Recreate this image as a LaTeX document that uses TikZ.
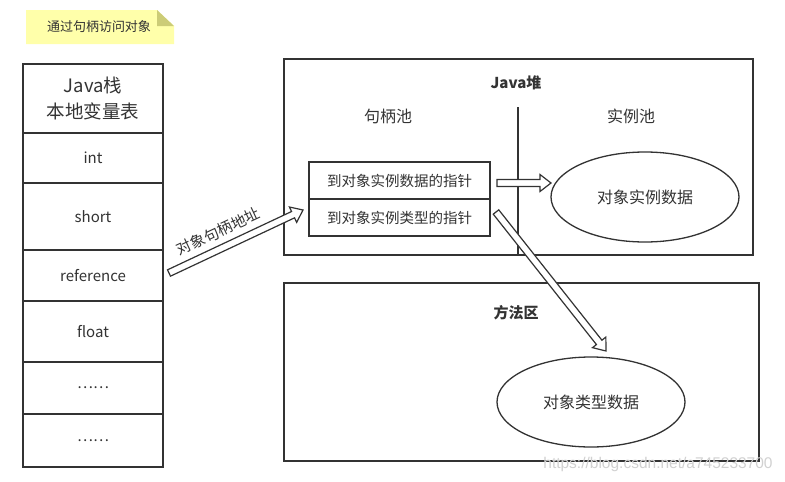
\documentclass[tikz,border=0pt]{standalone}
\usepackage{fontspec}
\setmainfont{Noto Sans CJK SC}
\newfontfamily\wmfont{Liberation Sans}
\usetikzlibrary{calc,shapes.geometric}
\definecolor{ln}{HTML}{333333}
\definecolor{notey}{HTML}{FFFFAA}
\definecolor{notec}{HTML}{CCCC77}
\tikzset{
  box/.style={draw=ln, line width=1.3pt, rectangle, inner sep=0pt},
  cell/.style={box, minimum width=140pt, font=\fontsize{15}{18}\selectfont, text=ln},
  hcell/.style={box, minimum width=181pt, minimum height=37pt, font=\fontsize{14.5}{17}\selectfont, text=ln},
  oval/.style={draw=ln, line width=1.3pt, ellipse, minimum width=188pt, minimum height=90pt, inner sep=0pt, font=\fontsize{16}{19}\selectfont, text=ln},
  lbl/.style={font=\fontsize{16}{19}\selectfont, text=ln},
  blbl/.style={font=\fontsize{15}{18}\selectfont\bfseries, text=ln},
  blockarr/.style={draw=ln, line width=1.2pt, fill=white, line join=miter},
}
% hollow block arrow from #1 to #2; #3 = name of the head-base coordinate
\newcommand{\blockarrow}[3]{%
  \coordinate (#3) at ($(#2)!11pt!(#1)$);
  \draw[blockarr] ($(#1)!3.5pt!90:(#2)$) -- ($(#3)!3.5pt!90:(#2)$) -- ($(#3)!8.5pt!90:(#2)$)
    -- (#2) -- ($(#3)!8.5pt!-90:(#2)$) -- ($(#3)!3.5pt!-90:(#2)$) -- ($(#1)!3.5pt!-90:(#2)$) -- cycle;}
\begin{document}
\begin{tikzpicture}[x=1pt,y=-1pt]
\useasboundingbox[fill=white] (0,0) rectangle (785,482);
% note
\fill[notey] (26,10) -- (157,10) -- (174,26) -- (174,44) -- (26,44) -- cycle;
\fill[notec] (157,10) -- (157,26) -- (174,26) -- cycle;
\node[font=\fontsize{13}{16}\selectfont, text=ln] (note) at (99,27) {通过句柄访问对象};
% stack
\node[cell, minimum height=69pt, align=center, font=\fontsize{18.5}{26}\selectfont] (s0) at (93,98.5) {Java栈\\本地变量表};
\node[cell, minimum height=50pt] (s1) at (93,158) {int};
\node[cell, minimum height=67pt] (s2) at (93,216.5) {short};
\node[cell, minimum height=51pt] (s3) at (93,275.5) {reference};
\node[cell, minimum height=61pt] (s4) at (93,331.5) {float};
\node[cell, minimum height=52pt] (s5) at (93,388) {……};
\node[cell, minimum height=53pt] (s6) at (93,440.5) {……};
% heap
\node[box, minimum width=469pt, minimum height=196pt] (heap) at (518.5,157) {};
\node[blbl] (heapt) at (516,83) {Java堆};
\node[lbl] (hpool) at (388,116) {句柄池};
\node[lbl] (ipool) at (631,116) {实例池};
\coordinate (divtop) at (518,107);
\draw[draw=ln, line width=1.3pt] (divtop) -- (divtop |- heap.south);
\node[hcell] (h1) at (399.5,180.5) {到对象实例数据的指针};
\node[hcell] (h2) at (399.5,217.5) {到对象实例类型的指针};
\node[oval] (inst) at (645,197) {对象实例数据};
% method area
\node[box, minimum width=475pt, minimum height=178pt] (meth) at (521.5,372) {};
\node[blbl] (metht) at (516,313) {方法区};
\node[oval] (type) at (591,402) {对象类型数据};
% arrows
\coordinate (r1) at (169,273);
\coordinate (r2) at (303,210);
\blockarrow{r1}{r2}{rh}
\path (r1) -- (r2) node[pos=0.42, sloped, above=6pt, font=\fontsize{15}{18}\selectfont, text=ln] (rl) {对象句柄地址};
\coordinate (a1) at (497,183);
\coordinate (a2) at (551,183);
\blockarrow{a1}{a2}{ah}
\coordinate (b1) at (496,212);
\coordinate (b2) at (606,351);
\blockarrow{b1}{b2}{bh}
% watermark
\node[font=\wmfont\fontsize{15.5}{18}\selectfont, text=black!18] (wm) at (658,464) {https://blog.csdn.net/a745233700};
\end{tikzpicture}
\end{document}
